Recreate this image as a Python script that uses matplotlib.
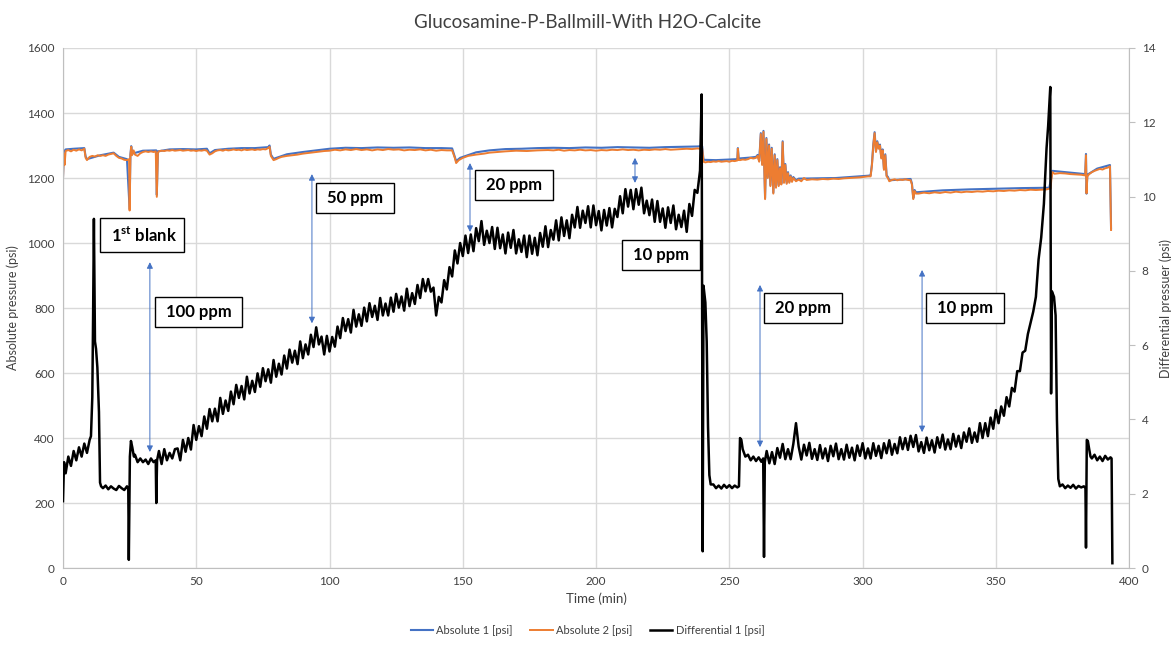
import numpy as np
import matplotlib.pyplot as plt

plt.rcParams['font.family'] = ['Lato', 'DejaVu Sans']
plt.rcParams['mathtext.fontset'] = 'custom'
plt.rcParams['mathtext.rm'] = 'Lato'
plt.rcParams['mathtext.bf'] = 'Lato:bold'

# -------------------------------
# Differential 1 [psi]  (right axis)
# -------------------------------
diff_time = np.concatenate([
    [0, 0.4, 1, 2, 3, 4, 5, 6, 7, 8, 9, 10, 10.5, 11, 11.3, 11.6, 12.0, 12.4, 12.9, 13.5, 13.9, 14.3],
    np.arange(15, 25),
    [24.5, 24.7, 25.1, 25.5, 26, 26.6, 27],
    np.arange(28, 35),
    [34.8, 35.0, 35.3],
    np.arange(36, 43),
    np.arange(43, 151),
    np.arange(151, 239),
    [239, 239.6, 240.0, 240.3, 241.0, 241.5, 242.0, 242.5, 243.0],
    np.arange(244, 254),
    [253.6, 254.0, 254.5, 255, 256, 257, 258, 259, 260, 261, 262, 262.7, 263.0, 263.3],
    np.arange(264, 363),
    [363, 364, 365, 366, 367, 368, 369, 369.6, 370.4, 370.7, 371.0, 371.8, 372.4, 372.9, 373.4, 374],
    np.arange(375, 384),
    [383.6, 383.8, 384.1, 384.5, 385.0, 385.5],
    np.arange(386, 394),
    [393.4, 393.7],
])

diff_psi = np.array([
    # first blank
    1.80, 2.85, 2.55, 3.00, 2.75, 3.15, 2.90, 3.25, 3.00, 3.35, 3.10, 3.45, 3.55, 4.60, 6.80, 9.40,
    6.10, 5.90, 5.40, 4.20, 2.30, 2.20,
    2.15, 2.22, 2.12, 2.20, 2.14, 2.10, 2.21, 2.15, 2.10, 2.20,
    2.12, 0.22, 3.00, 3.42, 3.25, 3.00, 3.05,
    2.85, 2.95, 2.85, 2.92, 2.80, 2.95, 2.85,
    2.90, 1.75, 2.90,
    3.15, 2.80, 3.20, 2.90, 3.10, 2.95, 3.20,
    # 100 ppm / 50 ppm build-up
    3.22, 2.90, 3.45, 3.13, 3.50, 3.19, 3.85, 3.45, 3.82, 3.55,
    4.08, 3.75, 4.28, 3.95, 4.29, 3.95, 4.58, 4.15, 4.51, 4.23,
    4.75, 4.41, 4.93, 4.58, 4.90, 4.54, 5.15, 4.70, 5.04, 4.74,
    5.24, 4.88, 5.38, 5.03, 5.35, 4.99, 5.60, 5.15, 5.50, 5.21,
    5.72, 5.37, 5.88, 5.53, 5.85, 5.49, 6.10, 5.65, 6.02, 5.75,
    6.28, 5.95, 6.48, 6.02, 6.23, 5.75, 6.25, 5.83, 6.22, 5.96,
    6.50, 6.19, 6.73, 6.38, 6.70, 6.34, 6.95, 6.50, 6.83, 6.52,
    7.01, 6.64, 7.13, 6.76, 7.06, 6.68, 7.27, 6.80, 7.12, 6.80,
    7.28, 6.90, 7.38, 7.01, 7.31, 6.93, 7.52, 7.05, 7.40, 7.11,
    7.62, 7.27, 7.78, 7.45, 7.78, 7.44,
    7.55, 6.80, 7.30, 7.15, 7.75, 7.50, 8.10, 7.85, 8.55, 8.20, 8.75, 8.40,
    # 20 ppm / 10 ppm
    8.95, 8.48, 8.98, 8.53, 9.15, 8.80, 9.34, 8.70, 9.08, 8.75,
    9.18, 8.59, 9.16, 8.61, 8.98, 8.47, 9.03, 8.62, 9.10, 8.47,
    8.85, 8.51, 8.95, 8.37, 8.95, 8.46, 8.89, 8.42, 9.02, 8.65,
    9.20, 8.64, 9.10, 8.84, 9.36, 8.82, 9.44, 8.94, 9.36, 8.88,
    9.51, 9.17, 9.72, 9.16, 9.62, 9.29, 9.74, 9.17, 9.76, 9.23,
    9.61, 9.09, 9.64, 9.22, 9.69, 9.17, 9.67, 9.45, 10.01, 9.55,
    10.20, 9.73, 10.18, 9.66, 10.20, 9.78, 10.24, 9.55, 9.89, 9.50,
    9.92, 9.32, 9.88, 9.32, 9.68, 9.16, 9.71, 9.29, 9.76, 9.12,
    9.51, 9.18, 9.62, 9.05, 9.80, 9.48, 10.18, 10.10,
    10.70, 12.75, 0.45, 7.60, 7.15, 6.10, 3.80, 2.50, 2.25,
    # second blank
    2.25, 2.15, 2.22, 2.14, 2.24, 2.16, 2.23, 2.15, 2.22, 2.17,
    2.20, 3.50, 3.45, 3.20, 3.00, 3.05, 2.90, 3.00, 2.88, 2.98, 2.86, 2.95, 0.30, 2.85,
    # 20 ppm / 10 ppm second run
    3.15, 2.82, 3.12, 2.80, 3.23, 2.97, 3.34, 2.93, 3.20, 2.93,
    3.34, 3.90, 3.27, 2.92, 3.32, 3.03, 3.37, 2.94, 3.20, 2.91,
    3.31, 2.95, 3.22, 2.88, 3.29, 3.01, 3.35, 2.93, 3.20, 2.92,
    3.32, 2.97, 3.24, 2.90, 3.30, 3.02, 3.36, 2.95, 3.22, 2.95,
    3.36, 3.02, 3.29, 2.96, 3.36, 3.09, 3.44, 3.05, 3.34, 3.09,
    3.52, 3.20, 3.50, 3.18, 3.56, 3.26, 3.58, 3.14, 3.39, 3.10,
    3.51, 3.17, 3.44, 3.11, 3.52, 3.24, 3.59, 3.19, 3.46, 3.20,
    3.61, 3.27, 3.56, 3.23, 3.65, 3.40, 3.76, 3.37, 3.65, 3.40,
    3.90, 3.50, 3.90, 3.55, 4.05, 3.75, 4.25, 3.90, 4.35, 4.10,
    4.60, 4.35, 4.85, 4.75, 5.30, 5.30, 5.80, 5.85, 6.30,
    6.60, 6.90, 7.30, 8.30, 8.90, 9.80, 11.30, 11.90, 12.95, 4.70, 7.45, 7.30, 6.80, 4.00, 2.40, 2.20,
    # final blank
    2.25, 2.15, 2.22, 2.16, 2.24, 2.14, 2.21, 2.17, 2.20,
    2.15, 0.55, 3.45, 3.42, 3.20, 3.00,
    2.95, 3.05, 2.90, 3.00, 2.88, 3.02, 2.92, 2.98,
    2.95, 0.13,
])

# -------------------------------
# Absolute 2 [psi]  (left axis)
# -------------------------------
abs2_time = np.concatenate([
    [0, 0.3, 0.6], np.arange(1, 9),
    [8.5], np.arange(9, 25), [24.8, 25.0, 25.3, 25.6, 25.9, 26.5], np.arange(27, 35),
    [34.8, 35.2, 35.6], np.arange(36, 55), [55, 56, 57], np.arange(58, 77),
    [77, 77.5, 78, 79, 80, 81, 82, 84, 86, 88, 90, 92, 94, 96, 98],
    np.arange(100, 147, 2), [147, 147.5, 148.5, 150, 152, 155, 158, 160, 163, 166, 170, 174, 178, 182],
    np.arange(184, 239, 2), [239, 239.8, 240.3, 241], np.arange(242, 253),
    [253, 253.2, 253.5], np.arange(254, 260),
    [260, 260.6, 261.2, 261.8, 262.3, 262.8, 263.4, 263.9, 264.4, 264.9, 265.4, 265.9, 266.5, 267.0,
     267.5, 268.0, 268.5, 269.0, 269.5, 270.0, 270.5, 271, 271.5, 272, 272.5, 273, 273.5, 274, 275,
     276, 277, 278],
    np.arange(279, 302, 2),
    [302, 303, 303.5, 304, 304.5, 305, 305.5, 306, 306.5, 307, 307.5, 308, 308.5, 309, 309.5, 310,
     311, 312, 313, 314, 315, 316, 317, 318, 318.5, 319, 319.5, 320],
    np.arange(321, 371, 2),
    [370.5, 370.8, 371.2, 372, 374, 376, 378, 380, 382, 383.5, 383.8, 384.0, 384.3, 385, 386, 387,
     388, 389, 390, 391, 392, 392.8, 393.2],
])

abs2_psi = np.array([
    1195, 1275, 1240, 1283, 1286, 1282, 1287, 1284, 1288, 1285, 1290,
    1262, 1255, 1265, 1268, 1266, 1270, 1268, 1270, 1268, 1272, 1274, 1276, 1268, 1262, 1260, 1256, 1255,
    1258, 1100, 1268, 1296, 1270, 1285, 1272, 1268, 1276, 1280, 1282, 1280, 1282, 1280,
    1282, 1142, 1278,
    1282, 1284, 1283, 1285, 1284, 1286, 1284, 1285, 1286, 1284, 1285, 1286, 1284, 1285, 1283, 1285,
    1284, 1286, 1284,
    1272, 1276, 1282,
    1285, 1286, 1284, 1287, 1285, 1286, 1288, 1286, 1287, 1285, 1288, 1286, 1287, 1288, 1286, 1288,
    1287, 1289, 1288,
    1292, 1296, 1268, 1255, 1258, 1262, 1265, 1268, 1270, 1272, 1275, 1277, 1279, 1281, 1283,
    1284, 1287, 1285, 1288, 1286, 1289, 1286, 1288, 1285, 1288, 1286, 1289, 1287, 1288, 1285, 1287,
    1286, 1288, 1285, 1287, 1284, 1286, 1285, 1285,
    1262, 1246, 1255, 1262, 1268, 1272, 1275, 1278, 1280, 1282, 1284, 1283, 1285, 1286,
    1285, 1287, 1284, 1286, 1285, 1287, 1285, 1286, 1284, 1286, 1285, 1287, 1286, 1288, 1286, 1287,
    1285, 1287, 1286, 1288, 1287, 1289, 1287, 1288, 1289, 1290, 1289, 1291,
    1290, 1292, 1250, 1248,
    1250, 1249, 1251, 1250, 1252, 1250, 1251, 1252, 1250, 1253, 1252,
    1254, 1290, 1256,
    1255, 1257, 1256, 1258, 1262, 1260,
    1262, 1268, 1250, 1335, 1240, 1342, 1135, 1320, 1200, 1300, 1175, 1290, 1152, 1270,
    1170, 1255, 1175, 1230, 1180, 1310, 1185, 1240, 1182, 1215, 1185, 1205, 1188, 1200, 1190,
    1195, 1190, 1200,
    1194, 1196, 1195, 1197, 1196, 1198, 1197, 1199, 1200, 1201, 1202, 1204,
    1205, 1205, 1240, 1300, 1338, 1280, 1310, 1290, 1300, 1260, 1285, 1225, 1270, 1205, 1200, 1190,
    1194, 1196, 1193, 1195, 1194, 1196, 1194, 1193, 1180, 1135, 1160, 1152,
    1152, 1155, 1153, 1156, 1154, 1157, 1155, 1158, 1156, 1158, 1157, 1159, 1158, 1160, 1159, 1161,
    1160, 1162, 1161, 1163, 1162, 1164, 1163, 1164, 1165,
    1168, 1195, 1218, 1213, 1215, 1214, 1212, 1211, 1210, 1208, 1270, 1153, 1205, 1212, 1218, 1222,
    1225, 1228, 1226, 1230, 1232, 1236, 1040,
])

# -------------------------------
# Absolute 1 [psi]  (left axis, sits just above Absolute 2)
# -------------------------------
abs1_time = [0, 0.3, 1, 4, 8, 8.5, 9, 14, 19, 21, 24, 25, 25.3, 25.6, 26, 30, 35, 35.2, 35.6, 40, 45,
             50, 54, 55, 57, 62, 67, 72, 77, 77.5, 78, 79, 84, 90, 95, 100, 106, 112, 118, 124, 130,
             136, 142, 146, 147.5, 149, 155, 160, 166, 172, 178, 184, 190, 196, 202, 208, 214, 220,
             226, 232, 238, 239.8, 240.3, 245, 253, 253.2, 253.5, 258,
             260, 260.6, 261.2, 261.8, 262.3, 262.8, 263.4, 263.9, 264.4, 264.9, 265.4, 265.9, 266.5,
             267.0, 267.5, 268.0, 268.5, 269.0, 269.5, 270.0, 270.5, 271, 271.5, 272, 272.5, 273,
             273.5, 274, 275, 276, 290, 302,
             303, 303.5, 304, 304.5, 305, 305.5, 306, 306.5, 307, 307.5, 308, 308.5, 309, 309.5, 310,
             318, 318.5, 319, 319.5, 320, 330, 340, 350, 360, 370, 370.8,
             371.2, 376, 383.5, 383.8, 384.0, 384.3, 388, 392.8, 393.2]
abs1_psi = [1200, 1280, 1288, 1290, 1292, 1266, 1258, 1270, 1278, 1265, 1258, 1105, 1272, 1298, 1275,
            1284, 1285, 1148, 1282, 1288, 1289, 1288, 1290, 1276, 1286, 1290, 1292, 1292, 1295, 1300,
            1272, 1259, 1273, 1280, 1285, 1290, 1293, 1292, 1294, 1293, 1294, 1292, 1292, 1291, 1252,
            1262, 1279, 1285, 1289, 1290, 1292, 1293, 1292, 1294, 1293, 1295, 1294, 1293, 1295, 1296,
            1297, 1298, 1256, 1255, 1258, 1292, 1260, 1263,
            1265, 1271, 1253, 1338, 1243, 1345, 1138, 1323, 1203, 1303, 1178, 1293, 1155,
            1273, 1173, 1258, 1178, 1233, 1183, 1313, 1188, 1243, 1185, 1218, 1188, 1208,
            1191, 1203, 1193, 1198, 1200, 1207,
            1208, 1243, 1303, 1341, 1283, 1313, 1293, 1303, 1263, 1288, 1228, 1273, 1208, 1203, 1193,
            1197, 1183, 1138, 1163, 1156, 1162, 1165, 1167, 1169, 1170, 1200,
            1222, 1218, 1212, 1274, 1152, 1210, 1229, 1240, 1045]

# -------------------------------
# Annotation labels (left-axis units)
# -------------------------------
box_labels = [' 1$^{\\mathbf{st}}$ blank ', ' 100 ppm ', ' 50 ppm ', ' 20 ppm ', ' 10 ppm ',
              ' 20 ppm ', ' 10 ppm ']
box_time = [29.8, 50.8, 109.4, 169.1, 224.2, 277.5, 338.3]
box_level = [1025, 788, 1140, 1179, 963, 801, 801]

arrow_time = [32.6, 93.4, 152.7, 214.6, 261.5, 322.3]
arrow_top = [941, 1212, 1246, 1262, 871, 917]
arrow_bottom = [357, 753, 1034, 1185, 372, 418]

# -------------------------------
# Plot
# -------------------------------
fig = plt.figure(figsize=(11.75, 6.46), dpi=100)
ax = fig.add_axes([0.0536, 0.1207, 0.9074, 0.805])
ax2 = ax.twinx()

grid_c = '#d9d9d9'
text_c = '#404040'

l1, = ax.plot(abs1_time, abs1_psi, color='#4472C4', lw=1.5, label='Absolute 1 [psi]')
l2, = ax.plot(abs2_time, abs2_psi, color='#ED7D31', lw=1.4, label='Absolute 2 [psi]')
l3, = ax2.plot(diff_time, diff_psi, color='black', lw=1.8, label='Differential 1 [psi]')

ax.set_xlim(0, 400)
ax.set_ylim(0, 1600)
ax2.set_ylim(0, 14)
ax.set_xticks(np.arange(0, 401, 50))
ax.set_yticks(np.arange(0, 1601, 200))
ax2.set_yticks(np.arange(0, 15, 2))

ax.grid(True, color=grid_c, lw=1)
ax.set_axisbelow(True)
for a in (ax, ax2):
    a.spines['top'].set_visible(False)
    for s in ('left', 'bottom', 'right'):
        a.spines[s].set_color('#bfbfbf')
ax.spines['right'].set_visible(False)
ax2.spines['left'].set_visible(False)
ax2.spines['bottom'].set_visible(False)

ax.tick_params(axis='both', length=0, labelsize=8.5, colors=text_c, pad=6)
ax2.tick_params(axis='y', length=4, color='#bfbfbf', labelsize=8.5, colors=text_c, pad=5)

ax.set_xlabel('Time (min)', fontsize=9.5, color=text_c, labelpad=4)
ax.set_ylabel('Absolute pressure (psi)', fontsize=9, color=text_c, labelpad=6)
ax2.set_ylabel('Differential pressuer (psi)', fontsize=9, color=text_c, rotation=90, labelpad=3)

fig.suptitle('Glucosamine-P-Ballmill-With H2O-Calcite', y=0.978, fontsize=13.5, color=text_c)

# double-headed arrows marking each concentration step
for t, top, bot in zip(arrow_time, arrow_top, arrow_bottom):
    ax2.annotate('', xy=(t, top), xytext=(t, bot),
                 xycoords=ax.transData, textcoords=ax.transData,
                 arrowprops=dict(arrowstyle='<|-|>', color='#4472C4', lw=0.7,
                                 mutation_scale=9, shrinkA=0, shrinkB=0),
                 zorder=5)

for lab, t, lev in zip(box_labels, box_time, box_level):
    ax2.text(t, lev, lab, transform=ax.transData, ha='center', va='center',
             fontsize=12, fontweight='bold', color='black', zorder=6,
             bbox=dict(boxstyle='square,pad=0.42', fc='white', ec='black', lw=1.0))

fig.legend(handles=[l1, l2, l3], loc='lower center', ncol=3, frameon=False,
           bbox_to_anchor=(0.5, 0.0), fontsize=8, handlelength=2.0, handletextpad=0.3,
           columnspacing=1.6, labelcolor=text_c)

fig.savefig('out.png', dpi=100)
